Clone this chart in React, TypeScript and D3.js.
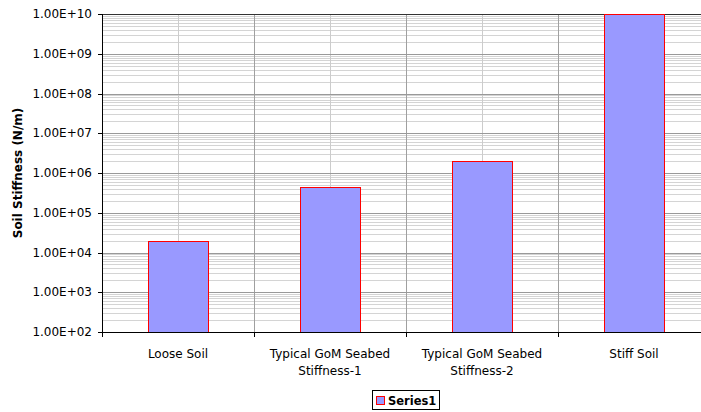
import { useEffect, useRef } from 'react'
import * as d3 from 'd3'

const categories = [
  ['Loose Soil'],
  ['Typical GoM Seabed', 'Stiffness-1'],
  ['Typical GoM Seabed', 'Stiffness-2'],
  ['Stiff Soil'],
]
const series1 = [2.0e4, 4.5e5, 2.0e6, 1.0e10]
const tickValues = [1e2, 1e3, 1e4, 1e5, 1e6, 1e7, 1e8, 1e9, 1e10]

export default function App() {
  const svgRef = useRef<SVGSVGElement>(null)

  useEffect(() => {
    if (!svgRef.current) return
    const root = d3.select(svgRef.current)
    root.selectAll('*').remove()

    const left = 102
    const top = 14
    const bottom = 332
    const right = 710
    const font = 'DejaVu Sans, Verdana, sans-serif'

    const x = d3.scaleBand<number>()
      .domain(categories.map((_, i) => i))
      .range([left, right])
    const y = d3.scaleLog().domain([1e2, 1e10]).range([bottom, top])

    const g = root.append('g')

    // minor horizontal gridlines
    const minor: number[] = []
    for (let e = 2; e < 10; e++) {
      for (let m = 2; m <= 9; m++) minor.push(m * Math.pow(10, e))
    }
    g.selectAll('.minor')
      .data(minor)
      .join('line')
      .attr('x1', left).attr('x2', right)
      .attr('y1', d => Math.round(y(d)) + 0.5)
      .attr('y2', d => Math.round(y(d)) + 0.5)
      .attr('stroke', '#d4d4d4')
      .attr('stroke-width', 1)

    // vertical minor lines at category centres
    g.selectAll('.vminor')
      .data(categories.map((_, i) => i))
      .join('line')
      .attr('x1', d => Math.round((x(d) || 0) + x.bandwidth() / 2) + 0.5)
      .attr('x2', d => Math.round((x(d) || 0) + x.bandwidth() / 2) + 0.5)
      .attr('y1', top).attr('y2', bottom)
      .attr('stroke', '#cccccc')

    // vertical major lines at category boundaries
    g.selectAll('.vmajor')
      .data([1, 2, 3])
      .join('line')
      .attr('x1', d => Math.round(x(d) || 0) + 0.5)
      .attr('x2', d => Math.round(x(d) || 0) + 0.5)
      .attr('y1', top).attr('y2', bottom)
      .attr('stroke', '#a0a0a0')

    // major horizontal gridlines
    g.selectAll('.major')
      .data(tickValues.slice(1, -1))
      .join('line')
      .attr('x1', left).attr('x2', right)
      .attr('y1', d => Math.round(y(d)) + 0.5)
      .attr('y2', d => Math.round(y(d)) + 0.5)
      .attr('stroke', '#999999')

    g.append('line')
      .attr('x1', left).attr('x2', right)
      .attr('y1', top + 0.5).attr('y2', top + 0.5)
      .attr('stroke', '#333333')

    // bars
    const barW = 60
    g.selectAll('.bar')
      .data(series1)
      .join('rect')
      .attr('x', (_, i) => Math.round((x(i) || 0) + x.bandwidth() / 2 - barW / 2) + 0.5)
      .attr('y', d => Math.round(y(d)) + 0.5)
      .attr('width', barW)
      .attr('height', d => bottom - Math.round(y(d)))
      .attr('fill', '#9999ff')
      .attr('stroke', '#ff0000')
      .attr('stroke-width', 1)

    // axes
    g.append('line')
      .attr('x1', left + 0.5).attr('x2', left + 0.5)
      .attr('y1', top).attr('y2', bottom + 5)
      .attr('stroke', '#000')
    g.append('line')
      .attr('x1', left).attr('x2', right)
      .attr('y1', bottom + 0.5).attr('y2', bottom + 0.5)
      .attr('stroke', '#000')

    g.selectAll('.ytick')
      .data(tickValues)
      .join('line')
      .attr('x1', left - 4).attr('x2', left)
      .attr('y1', d => Math.round(y(d)) + 0.5)
      .attr('y2', d => Math.round(y(d)) + 0.5)
      .attr('stroke', '#000')

    g.selectAll('.xtick')
      .data([1, 2, 3])
      .join('line')
      .attr('x1', d => Math.round(x(d) || 0) + 0.5)
      .attr('x2', d => Math.round(x(d) || 0) + 0.5)
      .attr('y1', bottom).attr('y2', bottom + 5)
      .attr('stroke', '#000')

    const fmt = (v: number) => {
      const e = Math.round(Math.log10(v))
      return `1.00E+${e < 10 ? '0' + e : e}`
    }
    g.selectAll('.ylab')
      .data(tickValues)
      .join('text')
      .attr('x', left - 10)
      .attr('y', d => y(d))
      .attr('dy', '0.35em')
      .attr('text-anchor', 'end')
      .attr('font-family', font)
      .attr('font-size', 12)
      .attr('fill', '#000')
      .text(fmt)

    // category labels
    categories.forEach((lines, i) => {
      const cx = (x(i) || 0) + x.bandwidth() / 2
      lines.forEach((ln, j) => {
        g.append('text')
          .attr('x', cx)
          .attr('y', 358 + j * 17)
          .attr('text-anchor', 'middle')
          .attr('font-family', font)
          .attr('font-size', 12)
          .attr('fill', '#000')
          .text(ln)
      })
    })

    // y axis title
    g.append('text')
      .attr('transform', `translate(22,${(top + bottom) / 2}) rotate(-90)`)
      .attr('text-anchor', 'middle')
      .attr('font-family', font)
      .attr('font-size', 12)
      .attr('font-weight', 'bold')
      .attr('fill', '#000')
      .text('Soil Stiffness (N/m)')

    // legend
    g.append('rect')
      .attr('x', 372.5).attr('y', 390.5)
      .attr('width', 67).attr('height', 19)
      .attr('fill', '#fff').attr('stroke', '#000')
    g.append('rect')
      .attr('x', 376.5).attr('y', 396.5)
      .attr('width', 8).attr('height', 8)
      .attr('fill', '#9999ff').attr('stroke', '#ff0000')
    g.append('text')
      .attr('x', 388).attr('y', 405)
      .attr('font-family', font)
      .attr('font-size', 11.5)
      .attr('font-weight', 'bold')
      .attr('fill', '#000')
      .text('Series1')
  }, [])

  return (
    <svg
      ref={svgRef}
      width={701}
      height={412}
      style={{ position: 'absolute', left: 0, top: 0, background: '#fff' }}
    />
  )
}
